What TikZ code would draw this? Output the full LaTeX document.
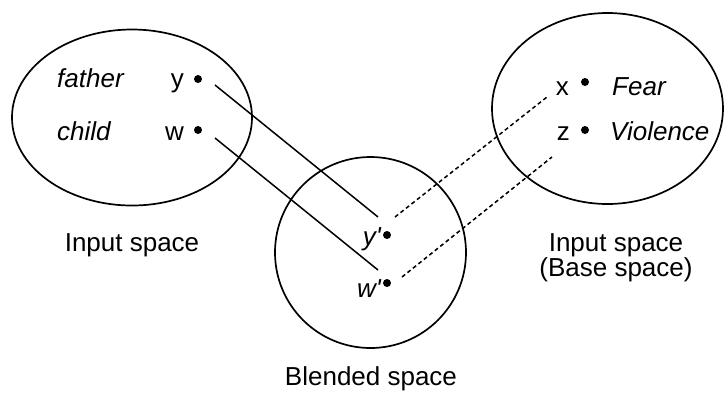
\documentclass[tikz,border=0pt]{standalone}
\usepackage{fontspec}
\newfontfamily\hv{Liberation Sans}
\begin{document}
\begin{tikzpicture}[x=1pt,y=-1pt,
  space/.style={draw,line width=1.7pt},
  lbl/.style={font=\hv\fontsize{26}{30}\selectfont,inner sep=0pt},
  ilbl/.style={font=\hv\itshape\fontsize{26}{30}\selectfont,inner sep=0pt},
  pt/.style={circle,fill=black,inner sep=0pt,minimum size=8pt},
  link/.style={line width=1.5pt},
  dlink/.style={line width=1.5pt,dash pattern=on 4pt off 3pt}]
\useasboundingbox (0,0) rectangle (724,392);
% spaces
\draw[space] (132,117.5) ellipse [x radius=120, y radius=88];
\draw[space] (607.5,108.5) ellipse [x radius=115.5, y radius=95.5];
\draw[space] (370.5,252.5) circle [radius=95.5];
% left input space
\node[ilbl,anchor=base west] (father) at (57,87) {father};
\node[ilbl,anchor=base west] (child) at (57,140) {child};
\node[lbl,anchor=base east] (y) at (184,87) {y};
\node[lbl,anchor=base east] (w) at (184,140) {w};
\node[pt] (ydot) at (198,79) {};
\node[pt] (wdot) at (198,130) {};
% right input space
\node[lbl,anchor=base east] (x) at (569,95) {x};
\node[lbl,anchor=base east] (z) at (570,140) {z};
\node[pt] (xdot) at (585,82) {};
\node[pt] (zdot) at (585,130) {};
\node[ilbl,anchor=base west] (fear) at (612,95) {Fear};
\node[ilbl,anchor=base west] (violence) at (610,140) {Violence};
% blended space
\node[ilbl,anchor=base east] (yp) at (381,245) {y'};
\node[ilbl,anchor=base east] (wp) at (381,297) {w'};
\node[pt] (ypdot) at (387,235) {};
\node[pt] (wpdot) at (387,283) {};
% connector ends
\coordinate (l1a) at (215,85);
\coordinate (l1b) at (378,217);
\coordinate (l2a) at (215,138);
\coordinate (l2b) at (378,270);
\coordinate (d1a) at (395,217);
\coordinate (d1b) at (547,97);
\coordinate (d2a) at (402,277);
\coordinate (d2b) at (552,157);
\draw[link] (l1a) -- (l1b);
\draw[link] (l2a) -- (l2b);
\draw[dlink] (d1a) -- (d1b);
\draw[dlink] (d2a) -- (d2b);
% captions
\node[lbl,anchor=base] (in1) at (132,251) {Input space};
\node[lbl,anchor=base] (in2) at (616,251) {Input space};
\node[lbl,anchor=base] (base) at (616,276) {(Base space)};
\node[lbl,anchor=base] (blend) at (371,385) {Blended space};
\end{tikzpicture}
\end{document}
